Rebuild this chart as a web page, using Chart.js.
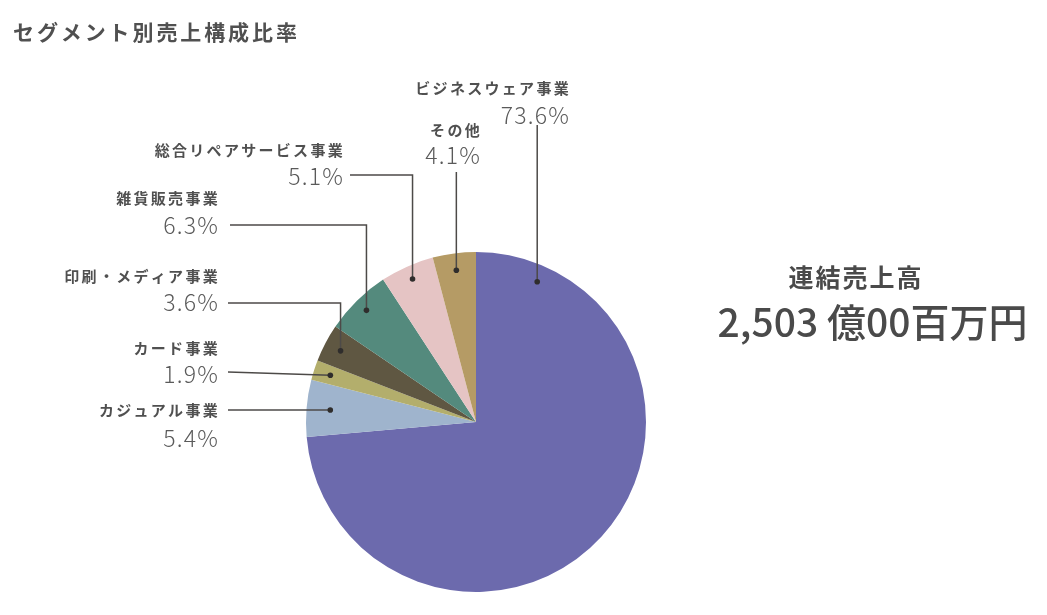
<!DOCTYPE html>
<html lang="ja">
<head>
<meta charset="utf-8">
<script src="https://cdn.jsdelivr.net/npm/chart.js@4"></script>
<style>
  html, body { margin: 0; padding: 0; background: #fff; }
  body { width: 1047px; height: 615px; position: relative; overflow: hidden;
         font-family: "Noto Sans CJK JP", "Noto Sans", sans-serif; color: #4a4a4a; }
  #wrap { position: absolute; left: 0; top: 0; width: 1047px; height: 615px; }
  .title { position: absolute; left: 13px; top: 16px; font-size: 21px; font-weight: 700;
           letter-spacing: 2.9px; color: #505050; }
  .total-label { position: absolute; left: 740px; width: 232px; top: 258px; text-align: center;
                 font-size: 25px; font-weight: 700; color: #4a4a4a; letter-spacing: 2px; }
  .total-value { position: absolute; left: 700px; width: 345px; top: 292px; text-align: center;
                 font-size: 39px; font-weight: 500; color: #4a4a4a; letter-spacing: 0px; }
</style>
</head>
<body>
<div id="wrap"><canvas id="myChart" width="1047" height="615"></canvas></div>
<div class="title">セグメント別売上構成比率</div>
<div class="total-label">連結売上高</div>
<div class="total-value">2,503 億00百万円</div>
<script>
// セグメント（時計回り、上から）
var categories = ['ビジネスウェア事業', 'カジュアル事業', 'カード事業', '印刷・メディア事業', '雑貨販売事業', '総合リペアサービス事業', 'その他'];
var shares = [73.6, 5.4, 1.9, 3.6, 6.3, 5.1, 4.1];
var pctLabels = ['73.6%', '5.4%', '1.9%', '3.6%', '6.3%', '5.1%', '4.1%'];
var colors = ['#6c6aad', '#9fb4cd', '#b3ae6c', '#5f5742', '#548a7d', '#e5c4c4', '#b59b65'];

// 引き出し線のレイアウト（dotAt: スライス内の角度位置, dotR: 半径比）
var leaders = [
    { dotAt: 0.089, dotR: 0.90, elbowY: 125, endX: null, endY: null, textX: 569, nameY: 88, pctY: 115 },
    { dotAt: 0.5, dotR: 0.86, elbowY: null, endX: 228, endY: null, textX: 218, nameY: 410, pctY: 438 },
    { dotAt: 0.5, dotR: 0.90, elbowY: null, endX: 228, endY: 372, textX: 218, nameY: 348, pctY: 374 },
    { dotAt: 0.5, dotR: 0.90, elbowY: 303, endX: 228, endY: null, textX: 218, nameY: 276, pctY: 302 },
    { dotAt: 0.5, dotR: 0.92, elbowY: 225, endX: 230, endY: null, textX: 218, nameY: 198, pctY: 225 },
    { dotAt: 0.5, dotR: 0.92, elbowY: 175, endX: 350, endY: null, textX: 343, nameY: 150, pctY: 176 },
    { dotAt: 0.5, dotR: 0.90, elbowY: 172, endX: null, endY: null, textX: 480, nameY: 130, pctY: 155 }
];

var leaderPlugin = {
    id: 'leaders',
    afterDatasetsDraw: function (chart) {
        var ctx = chart.ctx;
        var meta = chart.getDatasetMeta(0);
        meta.data.forEach(function (arc, i) {
            var L = leaders[i];
            var p = arc.getProps(['x', 'y', 'startAngle', 'endAngle', 'outerRadius'], true);
            var a = p.startAngle + (p.endAngle - p.startAngle) * L.dotAt;
            var r = p.outerRadius * L.dotR;
            var dx = p.x + Math.cos(a) * r;
            var dy = p.y + Math.sin(a) * r;

            ctx.save();
            ctx.strokeStyle = '#4d4a48';
            ctx.lineWidth = 1.5;
            ctx.beginPath();
            ctx.moveTo(dx, dy);
            if (L.elbowY !== null) {
                ctx.lineTo(dx, L.elbowY);
                if (L.endX !== null) ctx.lineTo(L.endX, L.elbowY);
            } else {
                ctx.lineTo(L.endX, L.endY !== null ? L.endY : dy);
            }
            ctx.stroke();

            ctx.fillStyle = '#2f2d2c';
            ctx.beginPath();
            ctx.arc(dx, dy, 2.8, 0, Math.PI * 2);
            ctx.fill();

            ctx.textAlign = 'right';
            ctx.textBaseline = 'middle';
            ctx.fillStyle = '#505050';
            ctx.font = '600 15px "Noto Sans CJK JP", sans-serif';
            ctx.letterSpacing = '2.3px';
            ctx.fillText(categories[i], L.textX + 2, L.nameY);
            ctx.fillStyle = '#5a5a5a';
            ctx.font = '300 23px "Noto Sans CJK JP", sans-serif';
            ctx.letterSpacing = '1.2px';
            ctx.fillText(pctLabels[i], L.textX + 1, L.pctY);
            ctx.restore();
        });
    }
};

var ctx = document.getElementById('myChart').getContext('2d');
var myChart = new Chart(ctx, {
    type: 'pie',
    data: {
        labels: categories,
        datasets: [{
            data: shares,
            backgroundColor: colors,
            borderWidth: 0
        }]
    },
    options: {
        responsive: false,
        animation: false,
        layout: { padding: { left: 306, right: 401, top: 252, bottom: 23 } },
        plugins: {
            legend: { display: false },
            tooltip: { enabled: false }
        }
    },
    plugins: [leaderPlugin]
});
</script>
</body>
</html>
